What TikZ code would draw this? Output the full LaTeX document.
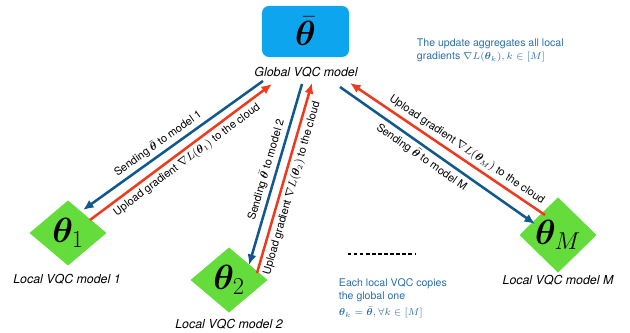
\documentclass[tikz,border=0pt]{standalone}
\usepackage[no-math]{fontspec}
\setmainfont{TeX Gyre Heros}
\usepackage{xcolor}
\usepackage{mathtools}
\usepackage{bm}
\usetikzlibrary{shapes.geometric,arrows.meta}
\definecolor{cloudblue}{RGB}{14,165,239}
\definecolor{localgreen}{RGB}{100,220,60}
\definecolor{sendblue}{RGB}{17,88,140}
\definecolor{upred}{RGB}{240,58,30}
\definecolor{noteblue}{RGB}{42,111,168}

\begin{document}
\begin{tikzpicture}[x=0.025cm,y=-0.025cm,
    globalbox/.style={fill=cloudblue,rounded corners=5pt,minimum width=2.175cm,minimum height=1.275cm,font=\fontsize{24}{26}\selectfont},
    localbox/.style={diamond,fill=localgreen,inner sep=0pt,minimum width=1.93cm,minimum height=1.63cm,font=\fontsize{24}{26}\selectfont},
    caption/.style={font=\fontsize{8.8}{10}\selectfont\itshape},
    sendarr/.style={draw=sendblue,line width=1.8pt,-{Latex[length=7.5pt,width=6.5pt]}},
    uparr/.style={draw=upred,line width=1.8pt,-{Latex[length=7.5pt,width=6.5pt]}},
    arrlabel/.style={font=\fontsize{7.8}{9}\selectfont,sloped,inner sep=2.3pt},
    note/.style={text=noteblue,font=\fontsize{7.5}{9.2}\selectfont,align=left}]

          \useasboundingbox (0,0) rectangle (630,333);

          \node[globalbox] (global) at (305.5,31.5) {$\bar{\bm\theta}$};
          \node[caption] (glabel) at (306,72) {Global VQC model};

          \node[localbox] (m1) at (68,233) {$\bm\theta_1$};
          \node[localbox] (m2) at (229,280) {$\bm\theta_2$};
          \node[localbox] (mM) at (558,235) {$\bm\theta_M$};

          \node[caption] (l1) at (67,279) {Local VQC model 1};
          \node[caption] (l2) at (229,324) {Local VQC model 2};
          \node[caption] (lM) at (558,280) {Local VQC model M};

          \draw[sendarr] ([shift={(-43,9)}]glabel.center) -- node[arrlabel,pos=0.55,above] {Sending $\bar{\bm\theta}$ to model 1} ([shift={(15,-23)}]m1.center);
          \draw[uparr] ([shift={(22,-13)}]m1.center) -- node[arrlabel,pos=0.5,below] {Upload gradient $\nabla L(\bm\theta_1)$ to the cloud} ([shift={(-34,12)}]glabel.center);

          \draw[sendarr] ([shift={(-4,12)}]glabel.center) -- node[arrlabel,pos=0.49,above] {Sending $\bar{\bm\theta}$ to model 2} ([shift={(20,-15)}]m2.center);
          \draw[uparr] ([shift={(28,-7)}]m2.center) -- node[arrlabel,pos=0.46,below] {Upload gradient $\nabla L(\bm\theta_2)$ to the cloud} ([shift={(6,11)}]glabel.center);

          \draw[sendarr] ([shift={(34,15)}]glabel.center) -- node[arrlabel,pos=0.45,below] {Sending $\bar{\bm\theta}$ to model M} ([shift={(-23,-11)}]mM.center);
          \draw[uparr] ([shift={(-13,-20)}]mM.center) -- node[arrlabel,pos=0.43,above] {Upload gradient $\nabla L(\bm\theta_M)$ to the cloud} ([shift={(44,11)}]glabel.center);

          \draw[line width=0.9pt,dash pattern=on 2.4pt off 1.9pt] (348,254) -- (415,254);

          \node[note,anchor=west] (agg) at (412,50.5) {The update aggregates all local\\gradients $\nabla L(\bm\theta_k), k\in[M]$};
          \node[note,anchor=north west] (copy) at (334,274) {Each local VQC copies\\the global one\\[2pt]$\bm\theta_k=\bar{\bm\theta},\forall k\in[M]$};
        \end{tikzpicture}
\end{document}
